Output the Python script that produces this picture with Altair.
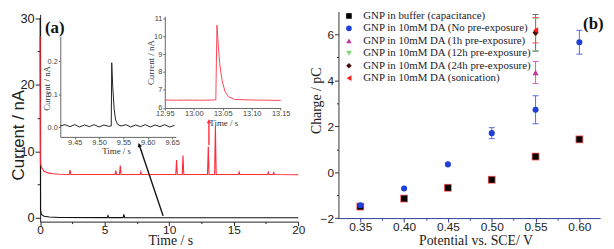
import altair as alt
import pandas as pd

# ---------------- data ----------------
# Panel (a) main traces: time (s) and current (nA)
red_time = [0, 0.02, 0.1, 0.3, 0.6, 1.0, 1.5, 2.25, 2.32, 2.39, 5.80, 5.86, 5.92, 6.15, 6.21, 6.27,
            7.74, 7.80, 7.86, 10.51, 10.57, 10.63, 11.01, 11.07, 11.13, 12.97, 13.03, 13.09,
            13.52, 13.58, 13.64, 15.36, 15.42, 15.48, 17.62, 17.68, 17.74, 18.04, 18.10, 18.16, 20]
red_current = [27.3, 8.3, 7.6, 7.0, 6.75, 6.62, 6.56, 6.52, 7.2, 6.5, 6.5, 7.1, 6.5, 6.5, 7.85, 6.5,
               6.5, 6.9, 6.5, 6.5, 8.7, 6.5, 6.5, 9.35, 6.5, 6.5, 10.7, 6.5,
               6.5, 13.8, 6.5, 6.5, 6.9, 6.5, 6.5, 6.85, 6.5, 6.5, 6.8, 6.5, 6.48]
black_time = [0, 0.03, 0.1, 0.3, 0.7, 1.5, 5.20, 5.26, 5.32, 6.43, 6.49, 6.55, 20]
black_current = [30.0, 1.2, 0.5, 0.25, 0.12, 0.05, 0.03, 0.35, 0.03, 0.03, 0.5, 0.03, 0.02]

# Inset (black trace, zoom around 9.5 s)
inset_black_time = [9.420, 9.430, 9.440, 9.450, 9.460, 9.470, 9.480, 9.490, 9.500, 9.510, 9.520,
                    9.525, 9.526, 9.528, 9.531, 9.534, 9.538,
                    9.545, 9.555, 9.565, 9.575, 9.585, 9.595, 9.605, 9.615, 9.625, 9.635, 9.645, 9.655]
inset_black_current = [0.004, 0.008, 0.002, 0.008, 0.001, 0.007, 0.002, 0.008, 0.001, 0.007, 0.003,
                       0.004, 0.195, 0.125, 0.055, 0.022, 0.009,
                       0.004, 0.008, 0.001, 0.007, 0.002, 0.008, 0.001, 0.007, 0.002, 0.008, 0.001, 0.006]

# Inset (red trace, zoom around 13.04 s)
inset_red_time = [12.950, 12.970, 12.990, 13.010, 13.030, 13.038, 13.040, 13.042, 13.045, 13.049,
                  13.054, 13.060, 13.070, 13.090, 13.110, 13.130, 13.150]
inset_red_current = [6.44, 6.43, 6.44, 6.43, 6.44, 6.45, 10.6, 9.6, 8.4, 7.5,
                     6.9, 6.62, 6.48, 6.45, 6.44, 6.43, 6.42]

# Arrows in panel (a), data coordinates
arrow_start_t = [9.53, 13.08]
arrow_start_i = [0.29, 10.95]
arrow_tip_t = [7.68, 13.08]
arrow_tip_i = [10.95, 14.5]
arrow_colors = ["#111111", "#ff2a3a"]
arrow_angles = [342, 0]

# Panel (b)
series_names = ["GNP in buffer (capacitance)",
                "GNP in 10mM DA (No pre-exposure)",
                "GNP in 10mM DA (1h pre-exposure)",
                "GNP in 10mM DA (12h pre-exposure)",
                "GNP in 10mM DA (24h pre-exposure)",
                "GNP in 10mM DA (sonication)"]
series_colors = ["#000000", "#1f3fd8", "#c0369a", "#7ad87a", "#4d0a0a", "#ff1a1a"]
series_shapes = ["square", "circle", "triangle-up", "triangle-down", "diamond", "triangle-left"]

potentials = [0.35, 0.40, 0.45, 0.50, 0.55, 0.60]
buffer_charge = [-1.50, -1.15, -0.68, -0.33, 0.68, 1.43]
noexp_charge = [-1.44, -0.71, 0.34, 1.70, 2.72, 5.66]
noexp_err = [0.05, 0.04, 0.04, 0.24, 0.61, 0.52]
pre_potential = 0.55
pre_charge = [4.34, 6.00, 6.07, 6.18]      # 1h, 12h, 24h, sonication
pre_err = [0.48, 0.70, 0.80, 0.55]
noexp_err_color = "#5a6ae6"
pre_err_colors = ["#d060b4", "#8fdc8f", "#6e6e6e", "#ff4d4d"]

panel_labels = ["(a)", "(b)"]

# ---------------- layout helpers ----------------
W, H = 606, 241
SX, SY = 606 / 614, 241 / 249


def px(x):
    return round(x * SX, 2)


def py(y):
    return round(y * SY, 2)


SANS = "Liberation Sans"
SERIF = "Liberation Serif"


def make_axis(orient, pos, values, label_expr, tick_test, label_size, title, title_font,
              title_size, title_pos, color="#222222", label_color="#222222",
              major=5, minor=3, label_padding=1, title_color="#222222"):
    if orient == "left":
        offset = -pos
        tx, ty = title_pos[0] - pos, title_pos[1]
        angle = 270
    else:
        offset = pos - H
        tx, ty = title_pos[0], title_pos[1] - pos
        angle = 0
    return alt.Axis(
        orient=orient, offset=offset, values=values, labelExpr=label_expr,
        tickSize={"condition": {"test": tick_test, "value": major}, "value": minor},
        domainColor=color, tickColor=color, domainWidth=1, tickWidth=1,
        labelColor=label_color, labelFont=SANS, labelFontSize=label_size,
        labelPadding=label_padding, labelFlush=False, labelOverlap=False,
        grid=False, title=title, titleFont=title_font, titleFontSize=title_size,
        titleFontWeight="normal", titleColor=title_color, titleX=tx, titleY=ty,
        titleAngle=angle, titleAlign="center", titleBaseline="middle",
    )


# ---------------- scales ----------------
xa = alt.Scale(domain=[0, 20], range=[px(33), px(298)], nice=False, zero=False)
ya = alt.Scale(domain=[-0.57, 30.57], range=[py(222), py(5)], nice=False, zero=False)
xi1 = alt.Scale(domain=[9.4204, 9.6576], range=[px(53.7), px(172.3)], nice=False, zero=False)
yi1 = alt.Scale(domain=[-0.029, 0.275], range=[py(133.3), py(28)], nice=False, zero=False)
xi2 = alt.Scale(domain=[12.95, 13.15], range=[px(161), px(280)], nice=False, zero=False)
yi2 = alt.Scale(domain=[6.0, 11.1], range=[py(103), py(7)], nice=False, zero=False)
xb = alt.Scale(domain=[0.3251, 0.6237], range=[px(339.3), px(608)], nice=False, zero=False)
yb = alt.Scale(domain=[-2.0, 7.0], range=[py(218.3), py(2)], nice=False, zero=False)

# ---------------- axes ----------------
ax_xa = make_axis("bottom", py(222), [i * 2.5 for i in range(9)],
                  "datum.value % 5 === 0 ? format(datum.value, 'd') : ''",
                  "datum.value % 5 === 0", 12, "Time / s", SERIF, 14, (px(166.7), py(242.3)),
                  major=4, minor=2, label_padding=-1)
ax_ya = make_axis("left", px(33), [i * 5 for i in range(7)],
                  "datum.value % 10 === 0 ? format(datum.value, 'd') : ''",
                  "datum.value % 10 === 0", 13, "Current / nA", SANS, 17, (px(11), py(131)))
ax_xi1 = make_axis("bottom", py(133.3), [9.45, 9.50, 9.55, 9.60, 9.65],
                   "format(datum.value, '.2f')", "true", 7.5, "Time / s", SERIF, 9,
                   (px(111), py(148)), color="#666666", label_color="#444444",
                   major=2, minor=2, label_padding=0, title_color="#333333")
ax_yi1 = make_axis("left", px(53.7), [0.0, 0.1, 0.2],
                   "format(datum.value, '.1f')", "true", 7.5, "Current / nA", SERIF, 9,
                   (px(39.5), py(82)), color="#666666", label_color="#444444",
                   major=2, minor=2, title_color="#333333")
ax_xi2 = make_axis("bottom", py(103), [12.95, 13.00, 13.05, 13.10, 13.15],
                   "format(datum.value, '.2f')", "true", 7.5, "Time / s", SERIF, 9,
                   (px(221), py(118)), color="#666666", label_color="#444444",
                   major=2, minor=2, label_padding=0, title_color="#333333")
ax_yi2 = make_axis("left", px(161), [6, 7, 8, 9, 10, 11],
                   "format(datum.value, 'd')", "true", 7.5, "Current / nA", SERIF, 9,
                   (px(146), py(55)), color="#666666", label_color="#444444",
                   major=2, minor=2, title_color="#333333")
ax_xb = make_axis("bottom", py(218.3), [round(0.35 + 0.025 * i, 3) for i in range(11)],
                  "round(datum.value * 1000) % 50 === 0 ? format(datum.value, '.2f') : ''",
                  "round(datum.value * 1000) % 50 === 0", 12, "Potential vs. SCE/ V", SERIF, 14,
                  (px(480), py(242)), color="#2d3c9a", major=4, minor=2, label_padding=0)
ax_yb = make_axis("left", px(339.3), list(range(-2, 7)),
                  "datum.value % 2 === 0 ? format(datum.value, 'd') : ''",
                  "datum.value % 2 === 0", 12, "Charge / pC", SERIF, 14, (px(316.5), py(95)),
                  color="#333333", major=4, minor=2)

# ---------------- data frames ----------------
df_red = pd.DataFrame({"t": red_time, "i": red_current})
df_black = pd.DataFrame({"t": black_time, "i": black_current})
df_in1 = pd.DataFrame({"t": inset_black_time, "i": inset_black_current})
df_in2 = pd.DataFrame({"t": inset_red_time, "i": inset_red_current})
df_arrow = pd.DataFrame({"t1": arrow_start_t, "i1": arrow_start_i, "t2": arrow_tip_t,
                         "i2": arrow_tip_i, "col": arrow_colors, "ang": arrow_angles})

rows = []
for p, q in zip(potentials, buffer_charge):
    rows.append({"series": series_names[0], "pot": p, "q": q})
for p, q in zip(potentials, noexp_charge):
    rows.append({"series": series_names[1], "pot": p, "q": q})
for k, q in enumerate(pre_charge):
    rows.append({"series": series_names[2 + k], "pot": pre_potential, "q": q})
df_pts = pd.DataFrame(rows)
df_buf = pd.DataFrame({"pot": potentials, "q": buffer_charge})

err_rows = []
for p, q, e in zip(potentials, noexp_charge, noexp_err):
    if e >= 0.1:
        err_rows.append({"pot": p, "lo": q - e, "hi": q + e, "col": noexp_err_color})
for q, e, c in zip(pre_charge, pre_err, pre_err_colors):
    err_rows.append({"pot": pre_potential, "lo": q - e, "hi": q + e, "col": c})
df_err = pd.DataFrame(err_rows)
df_caps = pd.concat([
    df_err[["pot", "lo", "col"]].rename(columns={"lo": "v"}),
    df_err[["pot", "hi", "col"]].rename(columns={"hi": "v"}),
])

# ---------------- layers ----------------
black_line = alt.Chart(df_black).mark_line(color="#111111", strokeWidth=1.1).encode(
    x=alt.X("t:Q", scale=xa, axis=None), y=alt.Y("i:Q", scale=ya, axis=None))
red_line = alt.Chart(df_red).mark_line(color="#ff2a3a", strokeWidth=1.1).encode(
    x=alt.X("t:Q", scale=xa, axis=ax_xa), y=alt.Y("i:Q", scale=ya, axis=ax_ya))
arrow_shaft = alt.Chart(df_arrow).mark_rule(strokeWidth=1.4).encode(
    x=alt.X("t1:Q", scale=xa, axis=None), y=alt.Y("i1:Q", scale=ya, axis=None),
    x2="t2:Q", y2="i2:Q", color=alt.Color("col:N", scale=None))
arrow_head = alt.Chart(df_arrow).mark_point(shape="triangle-up", filled=True, size=22,
                                             opacity=1).encode(
    x=alt.X("t2:Q", scale=xa, axis=None), y=alt.Y("i2:Q", scale=ya, axis=None),
    angle=alt.Angle("ang:Q", scale=None), color=alt.Color("col:N", scale=None))

inset1 = alt.Chart(df_in1).mark_line(color="#222222", strokeWidth=1).encode(
    x=alt.X("t:Q", scale=xi1, axis=ax_xi1), y=alt.Y("i:Q", scale=yi1, axis=ax_yi1))
inset2 = alt.Chart(df_in2).mark_line(color="#ff4455", strokeWidth=1).encode(
    x=alt.X("t:Q", scale=xi2, axis=ax_xi2), y=alt.Y("i:Q", scale=yi2, axis=ax_yi2))

err_rules = alt.Chart(df_err).mark_rule(strokeWidth=1).encode(
    x=alt.X("pot:Q", scale=xb, axis=ax_xb), y=alt.Y("lo:Q", scale=yb, axis=ax_yb),
    y2="hi:Q", color=alt.Color("col:N", scale=None))
err_caps = alt.Chart(df_caps).mark_tick(orient="horizontal", size=6, thickness=1,
                                         opacity=1).encode(
    x=alt.X("pot:Q", scale=xb, axis=None), y=alt.Y("v:Q", scale=yb, axis=None),
    color=alt.Color("col:N", scale=None))
buf_under = alt.Chart(df_buf).mark_point(shape="square", filled=True, size=62, opacity=1,
                                         color="#ff6060").encode(
    x=alt.X("pot:Q", scale=xb, axis=None), y=alt.Y("q:Q", scale=yb, axis=None))
legend = alt.Legend(orient="none", legendX=px(344.5), legendY=py(1.0), title=None,
                    labelFont=SERIF, labelFontSize=11, labelColor="#1a1a2a", labelLimit=0,
                    symbolSize=32, symbolStrokeWidth=0, labelOffset=9, rowPadding=0.6,
                    padding=0)
points = alt.Chart(df_pts).mark_point(filled=True, size=38, opacity=1).encode(
    x=alt.X("pot:Q", scale=xb, axis=None), y=alt.Y("q:Q", scale=yb, axis=None),
    color=alt.Color("series:N", scale=alt.Scale(domain=series_names, range=series_colors),
                    legend=legend),
    shape=alt.Shape("series:N", scale=alt.Scale(domain=series_names, range=series_shapes),
                    legend=legend))

lab_a = alt.Chart(pd.DataFrame({"label": [panel_labels[0]]})).mark_text(
    font=SERIF, fontSize=17, fontWeight="bold", align="center", baseline="middle",
    color="#111111").encode(x=alt.value(px(48)), y=alt.value(py(19)), text="label:N")
lab_b = alt.Chart(pd.DataFrame({"label": [panel_labels[1]]})).mark_text(
    font=SERIF, fontSize=17, fontWeight="bold", align="center", baseline="middle",
    color="#111111").encode(x=alt.value(px(601)), y=alt.value(py(15)), text="label:N")

chart = alt.layer(
    black_line, red_line, arrow_shaft, arrow_head, inset1, inset2,
    err_rules, err_caps, buf_under, points, lab_a, lab_b,
).resolve_scale(
    x="independent", y="independent", color="independent", shape="independent", angle="independent"
).resolve_axis(
    x="independent", y="independent"
).resolve_legend(
    color="independent", shape="independent"
).properties(
    width=W, height=H, autosize=alt.AutoSizeParams(type="none"), padding=0,
    background="white",
).configure_view(stroke=None)

chart.save("out.html", embed_options={"renderer": "svg", "actions": False})
